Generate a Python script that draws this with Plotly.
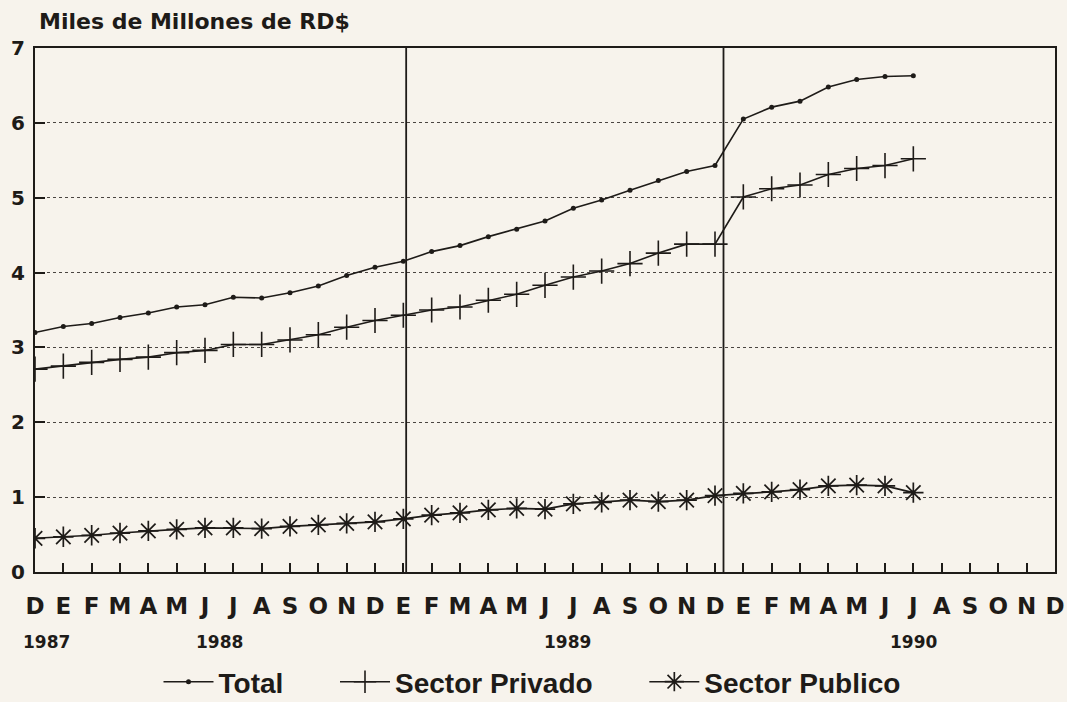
import plotly.graph_objects as go

# ---- data ----
month_labels = ["D", "E", "F", "M", "A", "M", "J", "J", "A", "S", "O", "N",
                "D", "E", "F", "M", "A", "M", "J", "J", "A", "S", "O", "N",
                "D", "E", "F", "M", "A", "M", "J", "J", "A", "S", "O", "N", "D"]
month_idx = list(range(len(month_labels)))

total = [3.20, 3.28, 3.32, 3.40, 3.46, 3.54, 3.57, 3.67, 3.66, 3.73, 3.82, 3.96,
         4.07, 4.15, 4.28, 4.36, 4.48, 4.58, 4.69, 4.86, 4.97, 5.10, 5.23, 5.35,
         5.43, 6.05, 6.21, 6.29, 6.48, 6.58, 6.62, 6.63]
privado = [2.71, 2.75, 2.80, 2.84, 2.87, 2.93, 2.96, 3.04, 3.04, 3.10, 3.17, 3.27,
           3.36, 3.43, 3.50, 3.54, 3.63, 3.71, 3.83, 3.94, 4.02, 4.12, 4.26, 4.38,
           4.38, 5.01, 5.12, 5.17, 5.31, 5.39, 5.43, 5.52]
publico = [0.45, 0.47, 0.49, 0.52, 0.55, 0.57, 0.59, 0.59, 0.58, 0.61, 0.63, 0.65,
           0.67, 0.71, 0.76, 0.79, 0.83, 0.85, 0.84, 0.91, 0.93, 0.96, 0.94, 0.96,
           1.02, 1.05, 1.07, 1.10, 1.15, 1.16, 1.15, 1.06]
data_idx = list(range(len(total)))

year_labels = ["1987", "1988", "1989", "1990"]
year_pos = [0.4, 6.5, 18.8, 31.0]
year_lines = [13.1, 24.3]

y_ticks = [0, 1, 2, 3, 4, 5, 6, 7]

# ---- style ----
INK = "#1e1b18"
PAPER = "#f7f3ec"
WIDE = "DejaVu Sans"
ARIAL = "Liberation Sans"
NB = "\u00a0"

fig = go.Figure()

fig.add_trace(go.Scatter(
    x=data_idx, y=total, name="<b>Total</b>" + NB * 6, mode="lines+markers",
    line=dict(color=INK, width=1.6),
    marker=dict(symbol="circle", size=5, color=INK),
))
fig.add_trace(go.Scatter(
    x=data_idx, y=privado, name="<b>Sector Privado</b>" + NB * 6, mode="lines+markers",
    line=dict(color=INK, width=1.6),
    marker=dict(symbol="cross-thin", size=18, color=INK,
                line=dict(color=INK, width=1.6)),
))
fig.add_trace(go.Scatter(
    x=data_idx, y=publico, name="<b>Sector Publico</b>", mode="lines+markers",
    line=dict(color=INK, width=1.6),
    marker=dict(symbol="asterisk-open", size=17, color=INK,
                line=dict(color=INK, width=1.7)),
))

for xv in year_lines:
    fig.add_shape(type="line", xref="x", yref="y", x0=xv, x1=xv, y0=0, y1=7.08,
                  line=dict(color=INK, width=1.8), layer="above")

for lbl, xp in zip(year_labels, year_pos):
    fig.add_annotation(x=xp, y=-0.134, xref="x", yref="paper", text="<b>%s</b>" % lbl,
                       showarrow=False, xanchor="center", yanchor="middle",
                       font=dict(family=WIDE, size=17, color=INK))

fig.add_annotation(x=(37 - 35) / (1067 - 35 - 12), y=1 + (48 - 22) / (702 - 48 - 130),
                   xref="paper", yref="paper", text="<b>Miles de Millones de RD$</b>",
                   showarrow=False, xanchor="left", yanchor="middle",
                   font=dict(family=WIDE, size=22, color=INK))

fig.update_layout(
    width=1067, height=702,
    margin=dict(l=35, r=12, t=48, b=130, autoexpand=False),
    paper_bgcolor=PAPER, plot_bgcolor=PAPER,
    showlegend=True,
    legend=dict(orientation="h", xref="container", yref="container",
                x=532 / 1067, xanchor="center", y=1 - 682 / 702, yanchor="middle",
                font=dict(family=ARIAL, size=28, color=INK), itemwidth=50,
                bgcolor="rgba(0,0,0,0)"),
    xaxis=dict(range=[0, 36], tickvals=month_idx, ticktext=["<b>%s</b>" % m for m in month_labels],
               tickfont=dict(family=WIDE, size=23, color=INK),
               ticks="inside", ticklen=9, tickwidth=1.5, tickcolor=INK,
               showgrid=False, zeroline=False, showline=True, linecolor=INK, linewidth=2,
               mirror=True, ticklabelstandoff=12, automargin=False),
    yaxis=dict(range=[0, 7], tickvals=y_ticks, ticktext=["<b>%d</b>" % v for v in y_ticks],
               tickfont=dict(family=WIDE, size=20, color=INK),
               ticks="inside", ticklen=10, tickwidth=1.5, tickcolor=INK,
               showgrid=True, gridcolor="#4a4541", griddash="dot", gridwidth=1,
               zeroline=False, showline=True, linecolor=INK, linewidth=2, mirror=True,
               ticklabelstandoff=4, automargin=False),
)

fig.write_html(
    "out.html",
    config={"displayModeBar": False},
    post_script="document.body.style.margin='0';document.body.style.padding='0';"
                "document.body.style.background='%s';"
                "document.body.style.overflow='hidden';" % PAPER,
)
